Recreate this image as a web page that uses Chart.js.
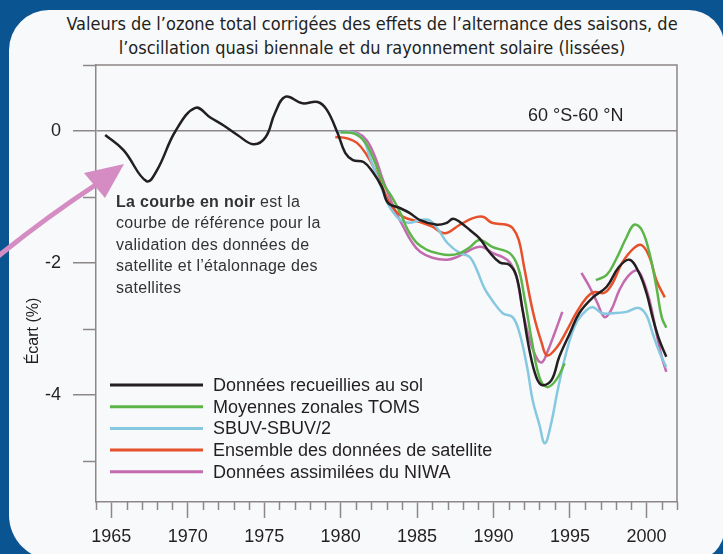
<!DOCTYPE html>
<html>
<head>
<meta charset="utf-8">
<script src="https://cdn.jsdelivr.net/npm/chart.js@4.4.1/dist/chart.umd.min.js"></script>
<style>
    html, body { margin: 0; padding: 0; }
    body {
        width: 723px; height: 554px; position: relative; overflow: hidden;
        background: #0b5492;
        font-family: "Liberation Sans", Arial, sans-serif;
    }
    #panel {
        position: absolute; left: 9px; top: 10px; width: 715px; height: 550px;
        background: #f7f9fb;
        border-radius: 40px 35px 30px 45px;
    }
    #title {
        position: absolute; left: 0; top: 12px; width: 744px;
        text-align: center; color: #231f20;
        font-family: "Liberation Sans Narrow", "DejaVu Sans Condensed", sans-serif;
        font-size: 18px; line-height: 24px;
    }
    #chartBox { position: absolute; left: 0; top: 0; width: 723px; height: 554px; }
    #note {
        position: absolute; left: 116px; top: 191px;
        font-size: 16px; line-height: 21.4px; letter-spacing: 0.3px; color: #333;
    }
    #arrow { position: absolute; left: 0; top: 0; }
</style>
</head>
<body>
<div id="panel"></div>
<div id="title">Valeurs de l’ozone total corrigées des effets de l’alternance des saisons, de<br>l’oscillation quasi biennale et du rayonnement solaire (lissées)</div>
<div id="chartBox"><canvas id="chart" width="723" height="554"></canvas></div>
<div id="note"><b>La courbe en noir</b> est la<br>courbe de référence pour la<br>validation des données de<br>satellite et l’étalonnage des<br>satellites</div>
<svg id="arrow" width="723" height="554">
    <path d="M -4 258 Q 45 218 97 184" fill="none" stroke="#d58cc2" stroke-width="5"/>
    <polygon points="124,164 84,173 105,198" fill="#d58cc2"/>
</svg>
<script>
// Series (year, % deviation)
const seriesLabels = [
    'Données recueillies au sol',
    'Moyennes zonales TOMS',
    'SBUV-SBUV/2',
    'Ensemble des données de satellite',
    'Données assimilées du NIWA'
];

const groundYears = [1964.6, 1965.8, 1967.3, 1968.0, 1969.2, 1970.5, 1971.5, 1972.3, 1973.25, 1974.3,
    1975.1, 1975.7, 1976.4, 1977.5, 1978.5, 1979.1, 1979.8, 1980.3, 1980.8, 1981.5,
    1982.1, 1982.7, 1983.1, 1983.9, 1984.5, 1985.2, 1986.3, 1986.95, 1987.35, 1987.8,
    1988.45, 1989.1, 1989.75, 1990.4, 1991.05, 1991.5, 1991.9, 1992.35, 1992.8, 1993.2,
    1993.8, 1994.3, 1995.0, 1995.6, 1996.5, 1997.4, 1998.2, 1998.9, 1999.5, 2000.0,
    2000.4, 2000.85, 2001.3];
const groundValues = [-0.06, -0.29, -0.76, -0.59, 0.0, 0.35, 0.2, 0.09, -0.06, -0.2,
    -0.09, 0.27, 0.52, 0.42, 0.44, 0.32, -0.03, -0.33, -0.44, -0.47,
    -0.62, -0.85, -1.09, -1.17, -1.24, -1.35, -1.42, -1.39, -1.33, -1.38,
    -1.5, -1.63, -1.84, -1.99, -2.03, -2.2, -2.71, -3.32, -3.73, -3.85,
    -3.77, -3.42, -3.06, -2.76, -2.52, -2.36, -2.06, -1.95, -2.14, -2.45,
    -2.82, -3.17, -3.42];

const tomsYears = [1980.0, 1980.9, 1981.6, 1982.2, 1982.8, 1983.36, 1983.9, 1984.4, 1985.0, 1985.65,
    1986.3, 1987.1, 1987.8, 1988.45, 1989.1, 1989.95, 1991.05, 1991.6, 1992.05, 1992.5,
    1993.0, 1993.5, 1994.1, 1994.65, 1995.5, 1996.7, 1997.4, 1998.0, 1998.7, 1999.2,
    1999.7, 2000.2, 2000.65, 2001.0, 2001.3];
const tomsValues = [-0.02, -0.04, -0.17, -0.45, -0.8, -1.0, -1.24, -1.5, -1.7, -1.8,
    -1.85, -1.88, -1.85, -1.76, -1.65, -1.76, -1.85, -2.06, -2.56, -3.17,
    -3.73, -3.88, -3.77, -3.52, null, -2.26, -2.18, -1.95, -1.61, -1.42,
    -1.5, -1.85, -2.36, -2.82, -2.98];

const sbuvYears = [1979.8, 1980.8, 1981.5, 1981.9, 1982.4, 1982.8, 1983.2, 1983.9, 1984.5, 1985.2,
    1985.8, 1986.4, 1987.0, 1987.8, 1988.45, 1988.9, 1989.4, 1989.9, 1990.6, 1991.25,
    1991.7, 1992.2, 1992.56, 1993.0, 1993.35, 1993.75, 1994.2, 1994.8, 1995.4, 1996.1,
    1996.5, 1997.1, 1997.8, 1998.7, 1999.5, 2000.0, 2000.4, 2000.8, 2001.3];
const sbuvValues = [-0.02, -0.02, -0.14, -0.39, -0.7, -0.94, -1.15, -1.35, -1.39, -1.35,
    -1.35, -1.5, -1.7, -1.85, -1.91, -2.1, -2.38, -2.56, -2.76, -2.82,
    -3.06, -3.58, -4.08, -4.45, -4.73, -4.45, -3.92, -3.32, -2.91, -2.71,
    -2.67, -2.76, -2.76, -2.74, -2.68, -2.79, -3.06, -3.32, -3.58];

const ensYears = [1979.65, 1980.4, 1981.07, 1981.7, 1982.25, 1982.8, 1983.36, 1984.1, 1985.2, 1986.0,
    1986.8, 1987.8, 1988.65, 1989.3, 1989.9, 1990.86, 1991.25, 1991.65, 1992.0, 1992.6,
    1993.15, 1993.5, 1994.1, 1994.8, 1995.4, 1996.1, 1996.6, 1997.26, 1997.8, 1998.4,
    1999.2, 1999.7, 2000.2, 2000.65, 2001.2];
const ensValues = [-0.09, -0.11, -0.18, -0.36, -0.59, -0.89, -1.15, -1.3, -1.38, -1.45,
    -1.55, -1.42, -1.32, -1.3, -1.39, -1.42, -1.47, -1.65, -2.06, -2.76,
    -3.21, -3.4, -3.29, -3.02, -2.76, -2.52, -2.44, -2.45, -2.3, -2.0,
    -1.77, -1.73, -1.91, -2.26, -2.52];

const niwaYears = [1980.3, 1981.1, 1981.7, 1982.25, 1982.7, 1983.1, 1983.55, 1984.1, 1984.65, 1985.2,
    1986.0, 1986.95, 1987.6, 1988.25, 1988.9, 1989.3, 1989.95, 1990.6, 1991.1, 1991.5,
    1991.9, 1992.37, 1992.9, 1993.2, 1993.5, 1994.0, 1994.5, 1995.1, 1995.75, 1996.28,
    1996.8, 1997.26, 1997.7, 1998.23, 1998.76, 1999.35, 1999.7, 2000.2, 2000.65, 2001.0,
    2001.3];
const niwaValues = [0.0, -0.03, -0.14, -0.39, -0.7, -0.94, -1.2, -1.45, -1.68, -1.83,
    -1.92, -1.95, -1.91, -1.83, -1.76, -1.76, -1.85, -1.91, -2.0, -2.21,
    -2.71, -3.17, -3.47, -3.5, -3.36, -3.06, -2.74, null, -2.15, -2.36,
    -2.61, -2.82, -2.71, -2.41, -2.21, -2.11, -2.21, -2.56, -3.06, -3.42,
    -3.65];

// Axis ticks
const xMajorTicks = [1965, 1970, 1975, 1980, 1985, 1990, 1995, 2000];
const xMinorTicks = [1964, 1966, 1967, 1968, 1969, 1971, 1972, 1973, 1974, 1976, 1977, 1978, 1979,
    1981, 1982, 1983, 1984, 1986, 1987, 1988, 1989, 1991, 1992, 1993, 1994,
    1996, 1997, 1998, 1999, 2001, 2002];
const yMajorTicks = [0, -2, -4];
const yMinorTicks = [1, -1, -3, -5];
const regionLabel = '60 °S-60 °N';
const yTitle = 'Écart (%)';

const axisGray = '#8e8787';
const textColor = '#231f20';
const seriesColors = ['#231f20', '#5db549', '#86c8e0', '#e6502b', '#c46aae'];

function toPoints(xs, ys) {
    return xs.map((x, i) => ({ x: x, y: ys[i] }));
}

function fixedTicks(values) {
    return scale => { scale.ticks = values.map(v => ({ value: v })); };
}

// frame, minor ticks, legend and free labels drawn on the canvas
const overlayPlugin = {
    id: 'overlay',
    beforeDatasetsDraw(chart) {
        const { ctx, chartArea: a, scales } = chart;
        ctx.save();
        ctx.strokeStyle = axisGray;
        ctx.lineWidth = 1.5;
        ctx.beginPath();
        ctx.moveTo(a.left, a.top);
        ctx.lineTo(a.right, a.top);
        ctx.lineTo(a.right, a.bottom);
        ctx.stroke();

        ctx.beginPath();
        xMinorTicks.forEach(v => {
            const px = Math.round(scales.x.getPixelForValue(v)) + 0.5;
            ctx.moveTo(px, a.bottom);
            ctx.lineTo(px, a.bottom + 8);
        });
        yMinorTicks.forEach(v => {
            const py = Math.round(scales.y.getPixelForValue(v)) + 0.5;
            ctx.moveTo(a.left - 13, py);
            ctx.lineTo(a.left, py);
        });
        ctx.stroke();
        ctx.restore();
    },
    afterDraw(chart) {
        const { ctx, chartArea: a } = chart;
        ctx.save();
        ctx.font = '18px "Liberation Sans", Arial, sans-serif';
        ctx.textBaseline = 'middle';
        ctx.fillStyle = textColor;
        chart.data.datasets.forEach((ds, i) => {
            const y = a.bottom - 117 + i * 21.7;
            ctx.strokeStyle = ds.borderColor;
            ctx.lineWidth = 3;
            ctx.beginPath();
            ctx.moveTo(a.left + 14, y);
            ctx.lineTo(a.left + 107, y);
            ctx.stroke();
            ctx.fillText(ds.label, a.left + 117, y + 1);
        });
        ctx.fillText(regionLabel, 528, 116);

        ctx.font = '16px "Liberation Sans", Arial, sans-serif';
        ctx.translate(34, 331);
        ctx.rotate(-Math.PI / 2);
        ctx.textAlign = 'center';
        ctx.fillText(yTitle, 0, 0);
        ctx.restore();
    }
};

const dsBase = { pointRadius: 0, borderWidth: 2.5, tension: 0.4, fill: false };

new Chart(document.getElementById('chart'), {
    type: 'line',
    data: {
        datasets: [
            { ...dsBase, label: seriesLabels[0], data: toPoints(groundYears, groundValues), borderColor: seriesColors[0] },
            { ...dsBase, label: seriesLabels[1], data: toPoints(tomsYears, tomsValues), borderColor: seriesColors[1] },
            { ...dsBase, label: seriesLabels[2], data: toPoints(sbuvYears, sbuvValues), borderColor: seriesColors[2] },
            { ...dsBase, label: seriesLabels[3], data: toPoints(ensYears, ensValues), borderColor: seriesColors[3] },
            { ...dsBase, label: seriesLabels[4], data: toPoints(niwaYears, niwaValues), borderColor: seriesColors[4] }
        ]
    },
    options: {
        responsive: false,
        animation: false,
        layout: { padding: { left: 0, top: 65, right: 46, bottom: 0 } },
        plugins: {
            legend: { display: false },
            title: { display: false },
            tooltip: { enabled: false }
        },
        scales: {
            x: {
                type: 'linear', min: 1964, max: 2002,
                afterBuildTicks: fixedTicks(xMajorTicks),
                afterFit: scale => { scale.height = 52; },
                border: { display: true, color: axisGray, width: 1.5 },
                grid: { drawOnChartArea: false, drawTicks: true, tickLength: 16, tickColor: axisGray, tickWidth: 1.5 },
                ticks: {
                    padding: 8, color: textColor, maxRotation: 0, autoSkip: false,
                    font: { size: 18, family: '"Liberation Sans", Arial, sans-serif' },
                    callback: v => String(v)
                }
            },
            y: {
                type: 'linear', min: -5.62, max: 1,
                afterBuildTicks: fixedTicks(yMajorTicks),
                afterFit: scale => { scale.width = 96; },
                border: { display: true, color: axisGray, width: 1.5 },
                grid: {
                    drawOnChartArea: true, drawTicks: true, tickLength: 23,
                    tickColor: axisGray, tickWidth: 1.5, lineWidth: 1.5,
                    color: c => (c.tick && c.tick.value === 0 ? axisGray : 'rgba(0,0,0,0)')
                },
                ticks: {
                    padding: 12, color: textColor, autoSkip: false,
                    font: { size: 18, family: '"Liberation Sans", Arial, sans-serif' },
                    callback: v => String(v)
                }
            }
        }
    },
    plugins: [overlayPlugin]
});
</script>
</body>
</html>
